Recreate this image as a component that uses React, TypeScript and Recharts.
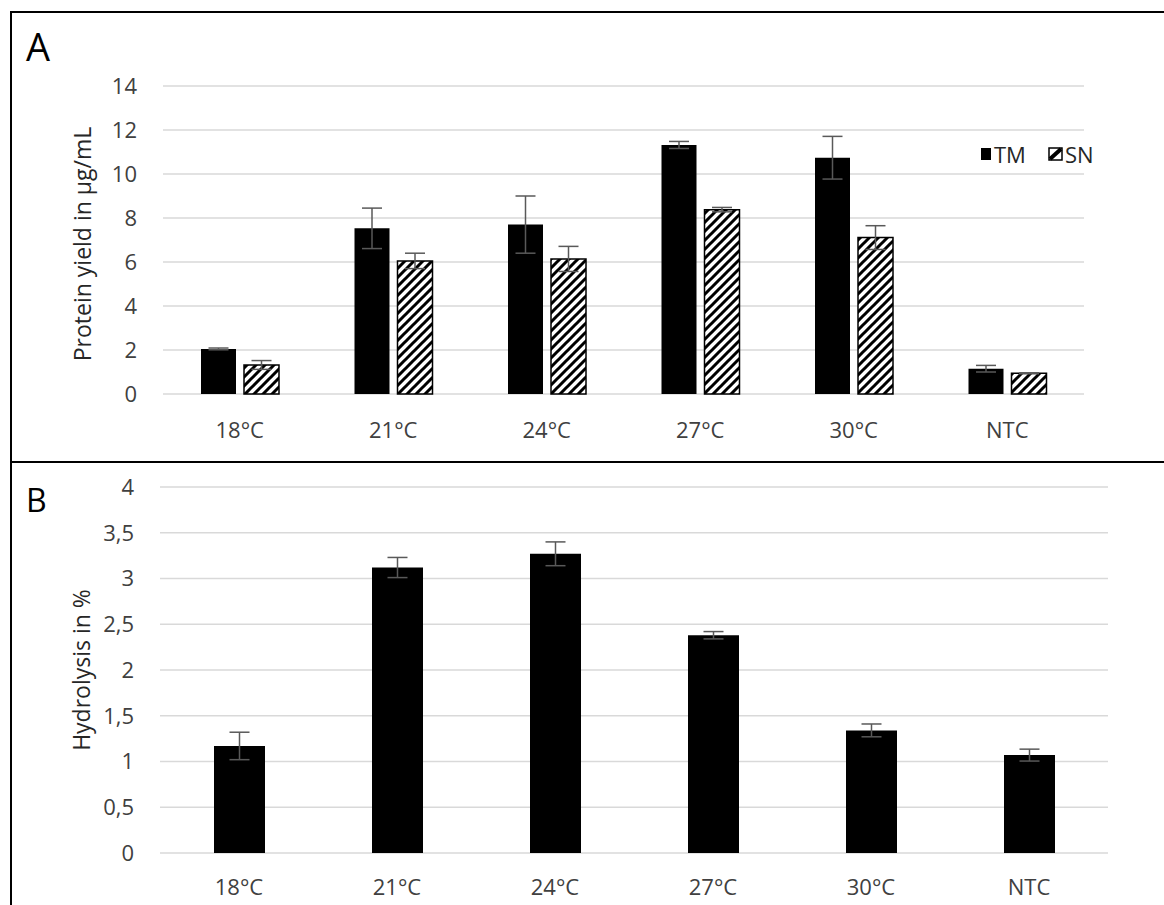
import { Bar, BarChart, CartesianGrid, ErrorBar, Label, Legend, XAxis, YAxis } from 'recharts';

const categories = ['18°C', '21°C', '24°C', '27°C', '30°C', 'NTC'];
const tmYield = [2.05, 7.53, 7.7, 11.32, 10.74, 1.15];
const tmErr = [0.04, 0.92, 1.3, 0.16, 0.97, 0.15];
const snYield = [1.32, 6.05, 6.14, 8.38, 7.11, 0.94];
const snErr = [0.2, 0.35, 0.57, 0.1, 0.54, 0.02];
const hydrolysis = [1.17, 3.12, 3.27, 2.38, 1.34, 1.07];
const hydrolysisErr = [0.15, 0.11, 0.13, 0.04, 0.07, 0.065];

const yieldTicks = [0, 2, 4, 6, 8, 10, 12, 14];
const hydroTicks = [0, 0.5, 1, 1.5, 2, 2.5, 3, 3.5, 4];

const FONT = '"Open Sans", sans-serif';
const GRID = '#d9d9d9';
const ERR = '#595959';

const yieldData = categories.map((name, i) => ({
    name,
    tm: tmYield[i],
    tmErr: tmErr[i],
    sn: snYield[i],
    snErr: snErr[i],
}));

const hydroData = categories.map((name, i) => ({
    name,
    value: hydrolysis[i],
    err: hydrolysisErr[i],
}));

const tickStyle = { fontSize: 22, fill: '#404040', fontFamily: FONT };

// legend for panel A, drawn in the top right corner
function YieldLegend() {
    return (
        <div style={{ display: 'flex', alignItems: 'center', fontFamily: FONT, fontSize: 22, color: '#262626' }}>
            <span style={{ display: 'inline-block', width: 10, height: 12, background: '#000', marginRight: 3 }} />
            <span style={{ marginRight: 22 }}>TM</span>
            <svg width={15} height={14} style={{ marginRight: 2 }}>
                <rect x={1} y={1} width={13} height={12} fill="#fff" stroke="#000" strokeWidth={1.5} />
                <path d="M2,12 L13,2" stroke="#000" strokeWidth={4} />
            </svg>
            <span>SN</span>
        </div>
    );
}

export default function App() {
    return (
        <div style={{ position: 'absolute', left: 0, top: 0, width: 1164, height: 905, overflow: 'hidden', background: '#fff' }}>
            {/* frame lines */}
            <div style={{ position: 'absolute', left: 10, top: 11, width: 1154, height: 2, background: '#000' }} />
            <div style={{ position: 'absolute', left: 10, top: 461, width: 1154, height: 2, background: '#000' }} />
            <div style={{ position: 'absolute', left: 10, top: 11, width: 2, height: 894, background: '#000' }} />

            <div style={{ position: 'absolute', left: 0, top: 0 }}>
                <BarChart
                    width={1164}
                    height={462}
                    data={yieldData}
                    margin={{ top: 86, right: 80, left: 3, bottom: 0 }}
                    barGap={8}
                    barSize={35}
                >
                    <defs>
                        <pattern id="hatch" patternUnits="userSpaceOnUse" width={9} height={9}>
                            <rect width={9} height={9} fill="#fff" />
                            <path d="M-2,2 l4,-4 M0,9 l9,-9 M7,11 l4,-4" stroke="#000" strokeWidth={3} />
                        </pattern>
                    </defs>
                    <CartesianGrid vertical={false} stroke={GRID} strokeWidth={1.5} />
                    <XAxis
                        dataKey="name"
                        axisLine={false}
                        tickLine={false}
                        tickSize={0}
                        tickMargin={28}
                        height={68}
                        tick={tickStyle}
                        interval={0}
                    />
                    <YAxis
                        width={160}
                        domain={[0, 14]}
                        ticks={yieldTicks}
                        axisLine={false}
                        tickLine={false}
                        tickSize={0}
                        tickMargin={26}
                        tick={tickStyle}
                    >
                        <Label
                            value="Protein yield in µg/mL"
                            angle={-90}
                            position="center"
                            dy={4}
                            style={{ fontSize: 23, fill: '#262626', fontFamily: FONT }}
                        />
                    </YAxis>
                    <Legend
                        layout="horizontal"
                        verticalAlign="middle"
                        align="center"
                        content={() => <YieldLegend />}
                        wrapperStyle={{ left: 981, top: 139, width: 'auto' }}
                    />
                    <Bar dataKey="tm" name="TM" fill="#000" isAnimationActive={false}>
                        <ErrorBar dataKey="tmErr" width={10} stroke={ERR} strokeWidth={1.5} direction="y" />
                    </Bar>
                    <Bar dataKey="sn" name="SN" fill="url(#hatch)" stroke="#000" strokeWidth={1.5} isAnimationActive={false}>
                        <ErrorBar dataKey="snErr" width={10} stroke={ERR} strokeWidth={1.5} direction="y" />
                    </Bar>
                </BarChart>
            </div>

            <div style={{ position: 'absolute', left: 0, top: 462 }}>
                <BarChart
                    width={1164}
                    height={443}
                    data={hydroData}
                    margin={{ top: 25, right: 56, left: 3, bottom: 0 }}
                    barSize={51}
                >
                    <CartesianGrid vertical={false} stroke={GRID} strokeWidth={1.5} />
                    <XAxis
                        dataKey="name"
                        axisLine={false}
                        tickLine={false}
                        tickSize={0}
                        tickMargin={26}
                        height={52}
                        tick={tickStyle}
                        interval={0}
                    />
                    <YAxis
                        width={157}
                        domain={[0, 4]}
                        ticks={hydroTicks}
                        axisLine={false}
                        tickLine={false}
                        tickSize={0}
                        tickMargin={26}
                        tick={tickStyle}
                        tickFormatter={(v: number) => String(v).replace('.', ',')}
                    >
                        <Label
                            value="Hydrolysis in %"
                            angle={-90}
                            position="center"
                            style={{ fontSize: 23, fill: '#262626', fontFamily: FONT }}
                        />
                    </YAxis>
                    <Bar dataKey="value" fill="#000" isAnimationActive={false}>
                        <ErrorBar dataKey="err" width={10} stroke={ERR} strokeWidth={1.5} direction="y" />
                    </Bar>
                </BarChart>
            </div>

            <div style={{ position: 'absolute', left: 26, top: 20, fontFamily: FONT, fontSize: 38, color: '#000' }}>A</div>
            <div style={{ position: 'absolute', left: 26, top: 478, fontFamily: FONT, fontSize: 32, color: '#000' }}>B</div>
        </div>
    );
}
